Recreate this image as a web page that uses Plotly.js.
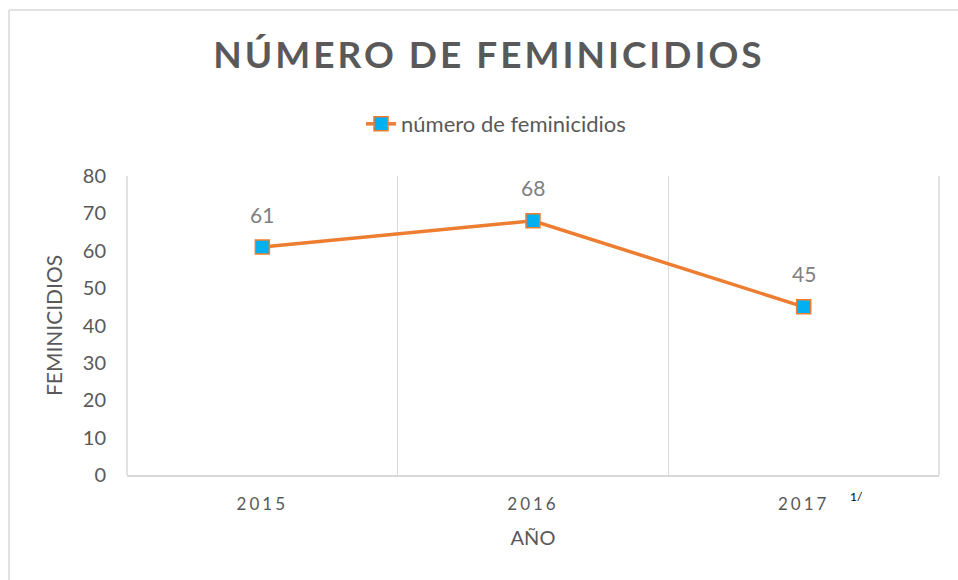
<!DOCTYPE html>
<html>
<head>
<meta charset="utf-8">
<script src="https://cdn.plot.ly/plotly-3.0.1.min.js"></script>
<style>
  html, body { margin: 0; padding: 0; background: #fff; }
  #chart { width: 958px; height: 580px; }
  .gtitle { letter-spacing: 3px; }
  .xtick text { letter-spacing: 3px; }
</style>
</head>
<body>
<div id="chart"></div>
<script>
const years = ['2015', '2016', '2017'];
const feminicidios = [61, 68, 45];
const seriesName = 'número de feminicidios';
const yTicks = [0, 10, 20, 30, 40, 50, 60, 70, 80];

const trace = {
  x: years,
  y: feminicidios,
  name: seriesName,
  type: 'scatter',
  mode: 'lines+markers',
  line: { color: '#ED7D31', width: 3.5 },
  marker: { symbol: 'square', size: 14, color: '#00B0F0', line: { color: '#ED7D31', width: 1.5 } },
  cliponaxis: false,
  hoverinfo: 'x+y'
};

const W = 958, H = 580, L = 127, R = 19, T = 176, B = 105;
const pw = W - L - R, ph = H - T - B;
const px = v => (v - L) / pw;
const py = v => (H - B - v) / ph;

const dataLabels = years.map((yr, i) => ({
  x: i, y: feminicidios[i], xref: 'x', yref: 'y',
  text: String(feminicidios[i]),
  showarrow: false, yshift: 33,
  xanchor: 'center', yanchor: 'middle',
  font: { family: 'Lato, sans-serif', size: 21, color: '#808080' }
}));

const layout = {
  width: W, height: H,
  margin: { l: L, r: R, t: T, b: B },
  paper_bgcolor: '#ffffff',
  plot_bgcolor: '#ffffff',
  font: { family: 'Lato, sans-serif', color: '#595959' },
  title: {
    text: '<b>NÚMERO DE FEMINICIDIOS</b>',
    font: { family: 'Lato, sans-serif', size: 37, color: '#595959' },
    x: px(489), xref: 'paper', xanchor: 'center',
    y: 1 - 55 / H, yanchor: 'middle'
  },
  showlegend: true,
  legend: {
    orientation: 'h',
    x: px(496), xanchor: 'center',
    y: py(124), yanchor: 'middle',
    font: { family: 'Lato, sans-serif', size: 22, color: '#595959' },
    bgcolor: 'rgba(0,0,0,0)'
  },
  xaxis: {
    type: 'category',
    range: [-0.5, 2.5],
    tickson: 'boundaries',
    showgrid: true,
    gridcolor: '#D9D9D9',
    gridwidth: 1.5,
    showline: true,
    linecolor: '#D9D9D9',
    linewidth: 1.5,
    ticks: '',
    ticklabelstandoff: 13,
    tickfont: { family: 'Lato, sans-serif', size: 17, color: '#595959' },
    zeroline: false,
    title: { text: 'AÑO', font: { family: 'Lato, sans-serif', size: 20, color: '#595959' }, standoff: 18 },
    fixedrange: true
  },
  yaxis: {
    range: [0, 80],
    tickvals: yTicks,
    showgrid: false,
    zeroline: false,
    showline: false,
    ticks: '',
    ticklabelstandoff: 20,
    tickfont: { family: 'Lato, sans-serif', size: 20, color: '#595959' },
    title: { text: 'FEMINICIDIOS', font: { family: 'Lato, sans-serif', size: 21, color: '#595959' }, standoff: 14 },
    fixedrange: true
  },
  annotations: dataLabels.concat([
    {
      text: '1/', xref: 'paper', yref: 'paper',
      x: px(856), y: py(496), xanchor: 'center', yanchor: 'middle',
      showarrow: false,
      font: { family: 'Lato, sans-serif', size: 12, color: '#000000' }
    }
  ]),
  shapes: [
    { type: 'line', xref: 'paper', yref: 'paper', x0: 0, x1: 0, y0: 0, y1: 1, line: { color: '#D9D9D9', width: 1.5 }, layer: 'below' },
    { type: 'line', xref: 'paper', yref: 'paper', x0: 1, x1: 1, y0: 0, y1: 1, line: { color: '#D9D9D9', width: 1.5 }, layer: 'below' },
    { type: 'line', xref: 'paper', yref: 'paper', x0: px(9), x1: px(970), y0: py(10), y1: py(10), line: { color: '#D9D9D9', width: 1.5 } },
    { type: 'line', xref: 'paper', yref: 'paper', x0: px(9), x1: px(9), y0: py(10), y1: py(590), line: { color: '#D9D9D9', width: 1.5 } }
  ]
};

Plotly.newPlot('chart', [trace], layout, { displayModeBar: false, staticPlot: true });
</script>
</body>
</html>
